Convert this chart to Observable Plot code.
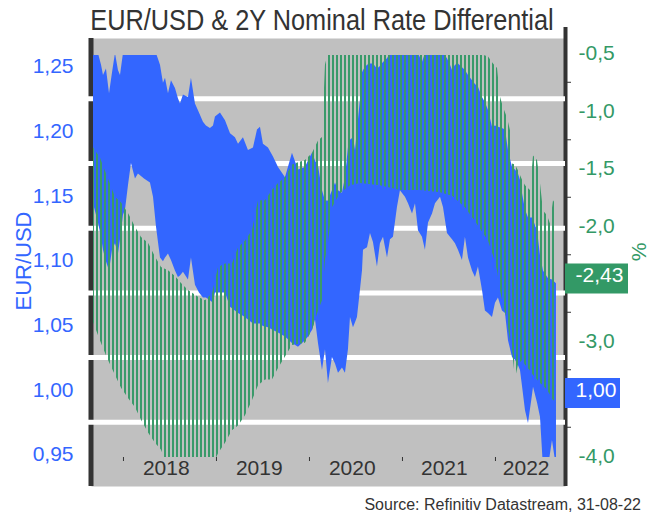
<!DOCTYPE html>
<html>
<head>
<meta charset="utf-8">
<script src="https://cdn.jsdelivr.net/npm/d3@7"></script>
<script src="https://cdn.jsdelivr.net/npm/@observablehq/plot@0.6"></script>
<style>
html, body { margin: 0; padding: 0; background: #fff; }
#wrap { position: relative; width: 661px; height: 515px; overflow: hidden; font-family: "Liberation Sans", Arial, sans-serif; }
#chart { position: absolute; left: 0; top: 0; }
#title { position: absolute; left: 22px; width: 600px; top: 6px; text-align: center; font-family: "Liberation Sans", Arial, sans-serif; font-size: 29px; line-height: 29px; color: #333; white-space: nowrap; transform: scaleX(0.873); transform-origin: 300px 50%; }
#ylab { position: absolute; left: -36px; top: 249px; width: 120px; height: 24px; line-height: 24px; text-align: center; font-size: 22px; color: #3366ff; transform: rotate(-90deg); }
#ylab2 { position: absolute; left: 624px; top: 240px; width: 30px; height: 24px; line-height: 24px; text-align: center; font-size: 21px; color: #339966; transform: rotate(-90deg); }
#caption { position: absolute; right: 20px; top: 497px; font-size: 16px; line-height: 16px; color: #333; white-space: nowrap; }
</style>
</head>
<body>
<div id="wrap">
  <div id="chart"></div>
  <div id="title">EUR/USD &amp; 2Y Nominal Rate Differential</div>
  <div id="ylab">EUR/USD</div>
  <div id="ylab2">%</div>
  <div id="caption">Source: Refinitiv Datastream, 31-08-22</div>
</div>
<script>
// ---------- data ----------
// EUR/USD band (decimal years, upper and lower edge)
const blueDates = [
  2017.678,2017.731,2017.764,2017.785,2017.817,2017.850,2017.882,2017.914,2017.946,2017.968,
  2018.000,2018.022,2018.054,2018.086,2018.129,2018.161,2018.226,2018.290,2018.323,2018.355,
  2018.398,2018.430,2018.452,2018.484,2018.516,2018.559,2018.591,2018.613,2018.645,2018.699,
  2018.731,2018.774,2018.817,2018.860,2018.892,2018.935,2018.968,2018.989,2019.043,2019.097,
  2019.151,2019.204,2019.237,2019.290,2019.344,2019.398,2019.441,2019.473,2019.505,2019.559,
  2019.613,2019.667,2019.742,2019.817,2019.882,2019.957,2019.989,2020.032,2020.065,2020.097,
  2020.140,2020.172,2020.204,2020.247,2020.280,2020.312,2020.355,2020.387,2020.419,2020.441,
  2020.473,2020.495,2020.516,2020.548,2020.570,2020.581,2020.602,2020.624,2020.656,2020.688,
  2020.731,2020.763,2020.796,2020.839,2020.871,2020.903,2020.946,2020.978,2021.032,2021.065,
  2021.108,2021.140,2021.172,2021.215,2021.247,2021.280,2021.323,2021.355,2021.409,2021.441,
  2021.484,2021.516,2021.538,2021.570,2021.602,2021.645,2021.677,2021.710,2021.753,2021.785,
  2021.817,2021.860,2021.892,2021.925,2021.968,2022.000,2022.032,2022.075,2022.108,2022.140,
  2022.183,2022.215,2022.247,2022.269,2022.290,2022.323,2022.355,2022.398,2022.409,2022.452,
  2022.484,2022.516,2022.570,2022.613,2022.656
];
const eurUsdHigh = [
  1.260,1.260,1.251,1.243,1.248,1.229,1.245,1.260,1.247,1.243,
  1.260,1.260,1.260,1.260,1.260,1.260,1.260,1.260,1.260,1.260,
  1.251,1.237,1.241,1.229,1.239,1.233,1.225,1.221,1.228,1.226,
  1.241,1.221,1.214,1.207,1.204,1.202,1.204,1.211,1.214,1.208,
  1.198,1.195,1.190,1.195,1.185,1.187,1.201,1.203,1.190,1.187,
  1.180,1.172,1.164,1.183,1.170,1.172,1.177,1.183,1.177,1.173,
  1.154,1.146,1.146,1.154,1.160,1.154,1.152,1.164,1.187,1.193,
  1.195,1.185,1.201,1.224,1.245,1.247,1.249,1.251,1.252,1.252,
  1.248,1.250,1.253,1.256,1.260,1.260,1.260,1.260,1.260,1.260,
  1.260,1.260,1.260,1.253,1.260,1.260,1.260,1.260,1.260,1.260,
  1.256,1.251,1.247,1.251,1.252,1.249,1.247,1.243,1.239,1.236,
  1.234,1.226,1.222,1.216,1.203,1.204,1.203,1.202,1.201,1.185,
  1.172,1.170,1.167,1.162,1.152,1.139,1.133,1.133,1.131,1.123,
  1.104,1.092,1.086,1.085,1.082
];
const eurUsdLow = [
  1.144,1.129,1.118,1.108,1.099,1.092,1.108,1.113,1.105,1.116,
  1.135,1.139,1.158,1.175,1.163,1.167,1.163,1.160,1.149,1.126,
  1.102,1.099,1.102,1.105,1.100,1.092,1.087,1.088,1.091,1.085,
  1.102,1.081,1.075,1.071,1.071,1.069,1.067,1.075,1.075,1.075,
  1.064,1.061,1.059,1.057,1.054,1.051,1.051,1.051,1.049,1.048,
  1.046,1.044,1.041,1.036,1.033,1.038,1.041,1.046,1.054,1.036,
  1.015,1.031,1.005,1.025,1.020,1.013,1.017,1.013,1.031,1.056,
  1.048,1.052,1.056,1.077,1.092,1.108,1.109,1.110,1.121,1.114,
  1.095,1.113,1.118,1.102,1.116,1.118,1.141,1.154,1.149,1.144,
  1.136,1.144,1.123,1.118,1.108,1.129,1.136,1.144,1.149,1.141,
  1.121,1.118,1.116,1.113,1.108,1.100,1.118,1.102,1.092,1.087,
  1.095,1.077,1.061,1.059,1.056,1.067,1.071,1.061,1.059,1.038,
  1.025,1.023,1.019,1.015,1.003,0.984,0.974,0.996,1.002,0.990,
  0.979,0.940,0.940,0.961,0.940
];

// 2Y nominal rate differential band (%, upper and lower edge)
const diffDates = [
  2017.678,2017.753,2017.828,2017.914,2017.979,2018.054,2018.129,2018.194,2018.269,2018.344,
  2018.409,2018.484,2018.559,2018.624,2018.699,2018.807,2018.882,2018.957,2019.022,2019.097,
  2019.172,2019.237,2019.312,2019.387,2019.452,2019.527,2019.602,2019.667,2019.742,2019.817,
  2019.882,2019.957,2020.032,2020.097,2020.140,2020.172,2020.204,2020.247,2020.333,2020.441,
  2020.548,2020.763,2020.978,2021.194,2021.409,2021.538,2021.677,2021.817,2021.925,2021.979,
  2022.022,2022.054,2022.086,2022.129,2022.161,2022.183,2022.215,2022.247,2022.290,2022.323,
  2022.376,2022.409,2022.452,2022.484,2022.516,2022.559,2022.591,2022.624,2022.656
];
const diffHigh = [
  -1.32,-1.41,-1.57,-1.75,-1.80,-1.89,-2.01,-2.10,-2.15,-2.27,
  -2.36,-2.39,-2.44,-2.50,-2.56,-2.62,-2.65,-2.59,-2.36,-2.33,
  -2.33,-2.19,-2.13,-2.04,-1.78,-1.78,-1.69,-1.63,-1.58,-1.47,
  -1.45,-1.43,-1.37,-1.26,-1.23,-0.60,-0.50,-0.50,-0.50,-0.50,
  -0.50,-0.50,-0.50,-0.50,-0.50,-0.50,-0.50,-0.50,-0.53,-0.59,
  -0.63,-0.88,-0.97,-1.06,-1.17,-1.46,-1.47,-1.52,-1.60,-1.65,
  -1.69,-1.39,-1.43,-1.63,-1.87,-1.91,-1.98,-1.78,-1.82
];
const diffLow = [
  -2.84,-3.00,-3.15,-3.30,-3.41,-3.50,-3.58,-3.69,-3.80,-3.89,
  -3.95,-4.10,-4.10,-4.10,-4.10,-4.10,-4.10,-4.10,-3.98,-3.89,
  -3.78,-3.74,-3.65,-3.52,-3.39,-3.34,-3.34,-3.24,-3.14,-3.04,
  -3.03,-3.02,-2.91,-2.74,-2.65,-2.30,-2.15,-1.84,-1.72,-1.65,
  -1.63,-1.65,-1.69,-1.69,-1.71,-1.74,-1.84,-2.00,-2.13,-2.26,
  -2.39,-2.56,-2.69,-2.82,-3.00,-3.08,-3.33,-3.21,-3.17,-3.21,
  -3.26,-3.30,-3.34,-3.37,-3.39,-3.43,-3.47,-3.52,-3.52
];

const lastEurUsd = 1.00;
const lastDiff = -2.43;

// axes / ticks
const leftTicks = [1.25, 1.20, 1.15, 1.10, 1.05, 1.00, 0.95];
const gridValues = [1.225, 1.175, 1.125, 1.075, 1.025, 0.975];
const rightTicks = [-0.5, -1.0, -1.5, -2.0, -3.0, -4.0];
const rightMinorTicks = [-0.75, -1.25, -1.75, -2.25, -2.75, -3.25, -3.75];
const yearTicks = [2018, 2019, 2020, 2021, 2022];
const yearLabels = ["2018", "2019", "2020", "2021", "2022"];
const yearLabelPos = [2018.46, 2019.46, 2020.46, 2021.45, 2022.33];

// ---------- styling ----------
const BLUE = "#3366ff";
const GREEN = "#339966";
const STRIPE = "#3a9a6a";
const DARK = "#333333";

// right (%) axis mapped onto the EUR/USD scale
const yDomain = [0.9478, 1.2585];
const rDomain = [-4.013, -0.517];
const kR = (yDomain[1] - yDomain[0]) / (rDomain[1] - rDomain[0]);
const toL = r => yDomain[0] + (r - rDomain[0]) * kR;
const fromL = l => rDomain[0] + (l - yDomain[0]) / kR;

const fmtL = d => d3.format(".2f")(d).replace(".", ",");
const fmtR = d => d3.format(".1f")(d).replace("\u2212", "-").replace(".", ",");
const fmtR2 = d => d3.format(".2f")(d).replace("\u2212", "-").replace(".", ",");

const blue = blueDates.map((t, i) => ({t, hi: eurUsdHigh[i], lo: eurUsdLow[i]}));
const diff = diffDates.map((t, i) => ({t, hi: diffHigh[i], lo: diffLow[i]}));

const W = 661, H = 490;
const mL = 92, mR = 96, mT = 55, mB = 33;
const frameW = W - mL - mR;

const svg = Plot.plot({
  width: W,
  height: H,
  marginLeft: mL,
  marginRight: mR,
  marginTop: mT,
  marginBottom: mB,
  style: {fontFamily: "'Liberation Sans', Arial, sans-serif", fontSize: "21px", color: DARK, background: "transparent", overflow: "visible"},
  x: {type: "linear", domain: [2017.667, 2022.753]},
  y: {domain: yDomain},
  marks: [
    Plot.frame({fill: "#c0c0c0", stroke: null, insetTop: -17, insetBottom: -29, insetLeft: -1}),
    Plot.ruleX([2017.667], {stroke: DARK, strokeWidth: 5, dx: -1.5, insetTop: -17, insetBottom: -29}),
    Plot.ruleX([2022.753], {stroke: DARK, strokeWidth: 4, insetTop: -28, insetBottom: -29}),
    Plot.ruleY(gridValues, {stroke: "#ffffff", strokeWidth: 5, insetLeft: -4}),
    Plot.areaY(blue, {x: "t", y1: "lo", y2: "hi", fill: BLUE, clip: true}),
    Plot.areaY(diff, {x: "t", y1: d => toL(d.lo), y2: d => toL(d.hi), fill: "url(#stripes)", clip: true}),
    Plot.axisX(yearTicks, {anchor: "bottom", tickSize: 4, stroke: DARK, fill: "none", label: null}),
    Plot.text(yearLabels, {x: (d, i) => yearLabelPos[i], text: d => d, frameAnchor: "bottom", dy: 17, fill: DARK, fontSize: 21}),
    Plot.axisY(leftTicks, {anchor: "left", tickSize: 0, tickPadding: 19, tickFormat: fmtL, fill: BLUE, fontSize: 21, label: null}),
    Plot.axisY(rightTicks.map(toL), {anchor: "right", tickSize: 0, tickPadding: 13, tickFormat: d => fmtR(fromL(d)), fill: GREEN, fontSize: 21, label: null}),
    Plot.axisY(rightMinorTicks.map(toL), {anchor: "right", tickSize: 5, stroke: DARK, fill: "none", label: null}),
    Plot.ruleY([lastDiff], {y: d => toL(d), stroke: GREEN, strokeWidth: 30, dy: 3, insetLeft: frameW, insetRight: -63}),
    Plot.text([lastDiff], {y: d => toL(d), text: d => fmtR2(d), frameAnchor: "right", dx: 34, textAnchor: "middle", fill: "#ffffff", fontSize: 21}),
    Plot.ruleY([lastEurUsd], {stroke: BLUE, strokeWidth: 30, dy: 3, insetLeft: frameW, insetRight: -55}),
    Plot.text([lastEurUsd], {y: d => d, text: d => fmtL(d), frameAnchor: "right", dx: 30.5, textAnchor: "middle", fill: "#ffffff", fontSize: 21})
  ]
});

// vertical stripe pattern for the rate-differential band
const ns = "http://www.w3.org/2000/svg";
const defs = document.createElementNS(ns, "defs");
const pat = document.createElementNS(ns, "pattern");
pat.setAttribute("id", "stripes");
pat.setAttribute("patternUnits", "userSpaceOnUse");
pat.setAttribute("width", "4");
pat.setAttribute("height", "8");
const pr = document.createElementNS(ns, "rect");
pr.setAttribute("x", "0");
pr.setAttribute("y", "0");
pr.setAttribute("width", "2");
pr.setAttribute("height", "8");
pr.setAttribute("fill", STRIPE);
pat.appendChild(pr);
defs.appendChild(pat);
svg.insertBefore(defs, svg.firstChild);

document.getElementById("chart").appendChild(svg);
</script>
</body>
</html>
